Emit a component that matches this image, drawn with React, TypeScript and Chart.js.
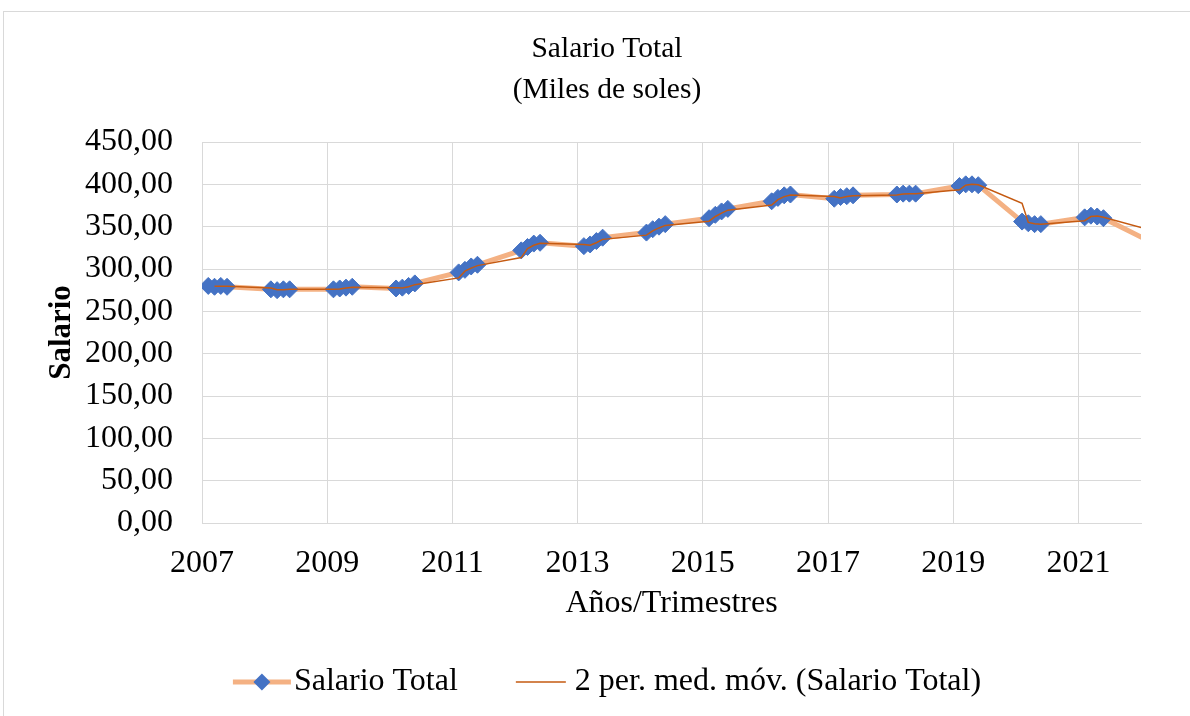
import React, { useEffect, useRef } from "react";
import { Chart, registerables } from "chart.js";

Chart.register(...registerables);

// ---- Data ----
const periods: number[] = [
  2007.1, 2007.2, 2007.3, 2007.4,
  2008.1, 2008.2, 2008.3, 2008.4,
  2009.1, 2009.2, 2009.3, 2009.4,
  2010.1, 2010.2, 2010.3, 2010.4,
  2011.1, 2011.2, 2011.3, 2011.4,
  2012.1, 2012.2, 2012.3, 2012.4,
  2013.1, 2013.2, 2013.3, 2013.4,
  2014.1, 2014.2, 2014.3, 2014.4,
  2015.1, 2015.2, 2015.3, 2015.4,
  2016.1, 2016.2, 2016.3, 2016.4,
  2017.1, 2017.2, 2017.3, 2017.4,
  2018.1, 2018.2, 2018.3, 2018.4,
  2019.1, 2019.2, 2019.3, 2019.4,
  2020.1, 2020.2, 2020.3, 2020.4,
  2021.1, 2021.2, 2021.3, 2021.4,
  2022.1,
];

const salarioTotal: number[] = [
  280, 279, 280, 279,
  276, 275, 276, 276,
  276, 277, 278, 279,
  277, 278, 280, 283,
  296, 299, 303, 305,
  322, 326, 330, 331,
  327, 329, 333, 337,
  343, 347, 350, 353,
  360, 364, 368, 371,
  380, 384, 387, 388,
  383, 385, 386, 387,
  388, 389, 389, 389,
  398, 400, 400, 399,
  356, 354, 353, 353,
  361, 363, 362, 360,
  334,
];

const xTickYears: number[] = [2007, 2009, 2011, 2013, 2015, 2017, 2019, 2021];
const titleLines: string[] = ["Salario Total", "(Miles de soles)"];
const seriesNames: string[] = ["Salario Total", "2 per. med. móv. (Salario Total)"];
const xAxisTitle = "Años/Trimestres";
const yAxisTitle = "Salario";

// ---- Styles ----
const FONT = "'Liberation Serif', 'Times New Roman', serif";
const X_MIN = 2007;
const X_MAX = 2022;
const SALARY_LINE = "#F4B183";
const MARKER = "#4472C4";
const MA_LINE = "#C55A11";
const GRID = "#d9d9d9";

const PAD_LEFT = 73;
const PAD_RIGHT = 49;

const legendPlugin = {
  id: "excelLegend",
  afterDraw(chart: any) {
    const ctx: CanvasRenderingContext2D = chart.ctx;
    ctx.save();
    ctx.font = `32px ${FONT}`;
    const w1 = ctx.measureText(seriesNames[0]).width;
    const w2 = ctx.measureText(seriesNames[1]).width;
    const icon1 = 58, gap1 = 3, between = 58, icon2 = 50, gap2 = 9;
    const total = icon1 + gap1 + w1 + between + icon2 + gap2 + w2;
    const center = (PAD_LEFT + chart.width - PAD_RIGHT) / 2;
    const y = 682;
    let x = center - total / 2;
    // item 1
    ctx.strokeStyle = SALARY_LINE;
    ctx.lineWidth = 5;
    ctx.beginPath();
    ctx.moveTo(x, y);
    ctx.lineTo(x + icon1, y);
    ctx.stroke();
    const cx = x + icon1 / 2;
    const r = 8.5;
    ctx.fillStyle = MARKER;
    ctx.beginPath();
    ctx.moveTo(cx, y - r);
    ctx.lineTo(cx + r, y);
    ctx.lineTo(cx, y + r);
    ctx.lineTo(cx - r, y);
    ctx.closePath();
    ctx.fill();
    x += icon1 + gap1;
    ctx.fillStyle = "#000";
    ctx.textBaseline = "middle";
    ctx.textAlign = "left";
    ctx.fillText(seriesNames[0], x, y);
    x += w1 + between;
    // item 2
    ctx.strokeStyle = MA_LINE;
    ctx.lineWidth = 1.5;
    ctx.beginPath();
    ctx.moveTo(x, y);
    ctx.lineTo(x + icon2, y);
    ctx.stroke();
    x += icon2 + gap2;
    ctx.fillText(seriesNames[1], x, y);
    ctx.restore();
  },
};

export default function App() {
  const canvasRef = useRef<HTMLCanvasElement | null>(null);

  useEffect(() => {
    if (!canvasRef.current) return;
    const salaryPoints = periods.map((p, i) => ({ x: p, y: salarioTotal[i] }));
    // Excel "2 per. med. móv." trendline: average of each pair of consecutive values
    const maPoints = periods.map((p, i) => ({
      x: p,
      y: i === 0 ? null : (salarioTotal[i - 1] + salarioTotal[i]) / 2,
    }));

    const tickFont = { family: FONT, size: 32 };

    const chart = new Chart(canvasRef.current, {
      type: "line",
      data: {
        datasets: [
          {
            label: seriesNames[0],
            data: salaryPoints as any,
            borderColor: SALARY_LINE,
            backgroundColor: MARKER,
            borderWidth: 5,
            tension: 0,
            pointStyle: "rectRot",
            pointRadius: (c: any) => (c.raw && c.raw.x > X_MAX ? 0 : 8.5),
            pointBackgroundColor: MARKER,
            pointBorderColor: MARKER,
            pointBorderWidth: 1,
            order: 2,
          },
          {
            label: seriesNames[1],
            data: maPoints as any,
            borderColor: MA_LINE,
            borderWidth: 1.5,
            tension: 0,
            pointRadius: 0,
            fill: false,
            order: 1,
          },
        ],
      },
      options: {
        animation: false,
        responsive: false,
        maintainAspectRatio: false,
        devicePixelRatio: 1,
        layout: { padding: { left: PAD_LEFT, right: PAD_RIGHT, top: 0, bottom: 92.8 } },
        plugins: {
          legend: { display: false },
          tooltip: { enabled: false },
          title: {
            display: true,
            text: titleLines,
            color: "#000",
            font: { family: FONT, size: 29.5, weight: "normal", lineHeight: 1.4 },
            padding: { top: 28.5, bottom: 30.9 },
          },
        },
        scales: {
          x: {
            type: "linear",
            min: X_MIN,
            max: X_MAX,
            afterBuildTicks: (s: any) => {
              s.ticks = xTickYears.map((v) => ({ value: v }));
            },
            afterFit: (s: any) => {
              s.height = 100.2;
            },
            grid: { color: GRID, lineWidth: 1, drawTicks: false },
            border: { color: GRID },
            ticks: {
              padding: 21,
              color: "#000",
              font: tickFont,
              autoSkip: false,
              maxRotation: 0,
              callback: (v: any) => String(v),
            },
            title: {
              display: true,
              text: xAxisTitle,
              color: "#000",
              font: { family: FONT, size: 32 },
              padding: { top: 0, bottom: 0 },
            },
          },
          y: {
            min: 0,
            max: 450,
            afterFit: (s: any) => {
              s.width = 202 - PAD_LEFT;
            },
            grid: { color: GRID, lineWidth: 1, drawTicks: false },
            border: { color: GRID },
            ticks: {
              stepSize: 50,
              padding: 29,
              color: "#000",
              font: tickFont,
              callback: (v: any) => Number(v).toFixed(2).replace(".", ","),
            },
            title: {
              display: true,
              text: yAxisTitle,
              color: "#000",
              font: { family: FONT, size: 31, weight: "bold" },
              padding: { top: -29.6, bottom: 0 },
            },
          },
        },
      },
      plugins: [legendPlugin],
    } as any);

    return () => chart.destroy();
  }, []);

  return (
    <div
      style={{
        position: "fixed",
        left: 0,
        top: 0,
        width: 1190,
        height: 716,
        overflow: "hidden",
        background: "#fff",
      }}
    >
      <div
        style={{
          position: "absolute",
          left: 3,
          top: 11,
          width: 1400,
          height: 900,
          border: `1px solid ${GRID}`,
          boxSizing: "border-box",
        }}
      />
      <canvas
        ref={canvasRef}
        width={1190}
        height={716}
        style={{ position: "absolute", left: 0, top: 0, width: 1190, height: 716 }}
      />
    </div>
  );
}
